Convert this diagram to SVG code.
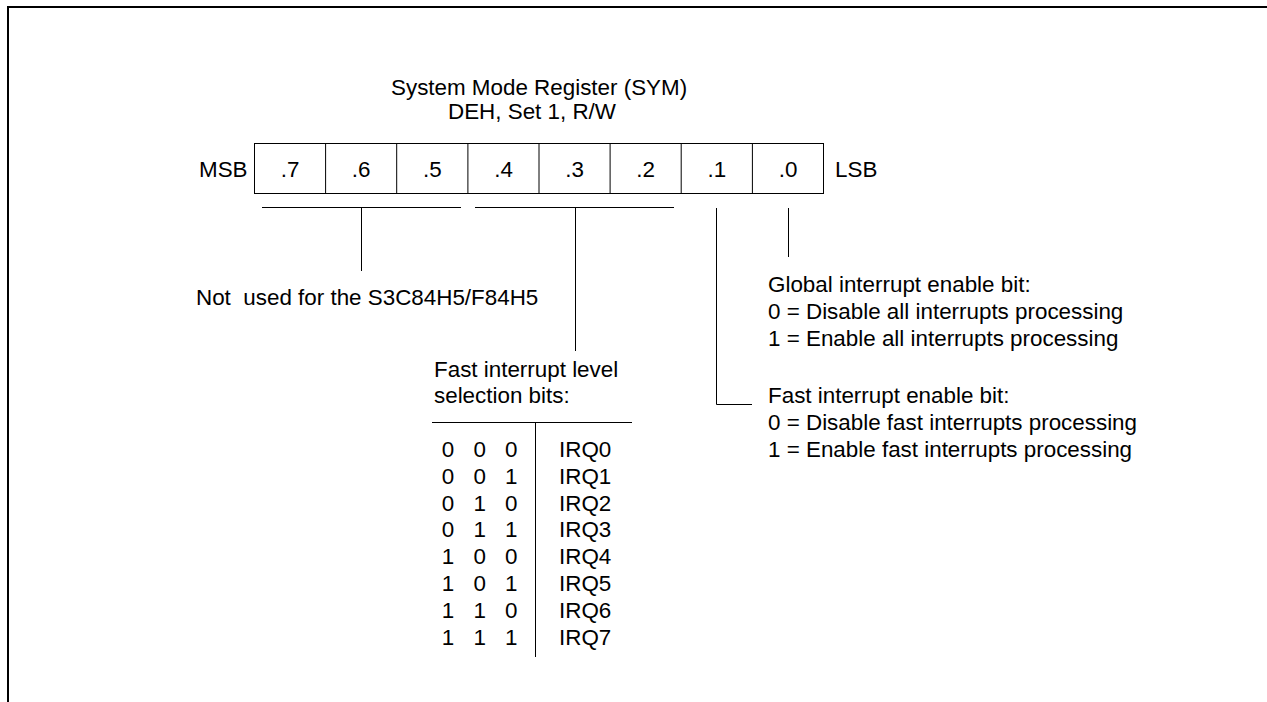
<svg xmlns="http://www.w3.org/2000/svg" width="1267" height="702" viewBox="0 0 1267 702">
<style>
text{font-family:"Liberation Sans",Arial,sans-serif;font-size:22.4px;fill:#000}
.ln{stroke:#000;stroke-width:1;fill:none}
.fr{stroke:#000;stroke-width:2;fill:none}
.c{text-anchor:middle}
.pre{white-space:pre}
</style>
<rect width="1267" height="702" fill="#fff"/>
<path class="fr" d="M8 702 V7 H1267"/>
<g id="title">
<text x="391" y="95">System Mode Register (SYM)</text>
<text x="448" y="119">DEH, Set 1, R/W</text>
</g>
<g id="register">
<rect class="ln" x="254.5" y="143.5" width="569" height="50"/>
<path class="ln" d="M325.6 143.5V193.5M396.7 143.5V193.5M467.9 143.5V193.5M539 143.5V193.5M610.1 143.5V193.5M681.2 143.5V193.5M752.4 143.5V193.5"/>
<text x="199" y="177">MSB</text>
<text x="835" y="177">LSB</text>
<text class="c" x="290" y="177">.7</text>
<text class="c" x="361.2" y="177">.6</text>
<text class="c" x="432.3" y="177">.5</text>
<text class="c" x="503.5" y="177">.4</text>
<text class="c" x="574.6" y="177">.3</text>
<text class="c" x="645.7" y="177">.2</text>
<text class="c" x="716.8" y="177">.1</text>
<text class="c" x="788" y="177">.0</text>
</g>
<g id="connectors">
<path class="ln" d="M262 207.5H461M361.5 207.5V271"/>
<path class="ln" d="M475 207.5H674M575.5 207.5V351"/>
<path class="ln" d="M716.5 208V404.5H752"/>
<path class="ln" d="M788.5 208V257"/>
</g>
<g id="not-used">
<text class="pre" xml:space="preserve" x="196" y="305">Not  used for the S3C84H5/F84H5</text>
</g>
<g id="fast-level">
<text x="434" y="377">Fast interrupt level</text>
<text x="434" y="403">selection bits:</text>
<path class="ln" d="M432 422.5H632M535.5 422.5V657"/>
<g class="c">
<text class="c" x="448" y="457">0</text><text class="c" x="479.7" y="457">0</text><text class="c" x="511.3" y="457">0</text>
<text class="c" x="448" y="483.8">0</text><text class="c" x="479.7" y="483.8">0</text><text class="c" x="511.3" y="483.8">1</text>
<text class="c" x="448" y="510.6">0</text><text class="c" x="479.7" y="510.6">1</text><text class="c" x="511.3" y="510.6">0</text>
<text class="c" x="448" y="537.4">0</text><text class="c" x="479.7" y="537.4">1</text><text class="c" x="511.3" y="537.4">1</text>
<text class="c" x="448" y="564.2">1</text><text class="c" x="479.7" y="564.2">0</text><text class="c" x="511.3" y="564.2">0</text>
<text class="c" x="448" y="591">1</text><text class="c" x="479.7" y="591">0</text><text class="c" x="511.3" y="591">1</text>
<text class="c" x="448" y="617.8">1</text><text class="c" x="479.7" y="617.8">1</text><text class="c" x="511.3" y="617.8">0</text>
<text class="c" x="448" y="644.6">1</text><text class="c" x="479.7" y="644.6">1</text><text class="c" x="511.3" y="644.6">1</text>
</g>
<text x="559" y="457">IRQ0</text>
<text x="559" y="483.8">IRQ1</text>
<text x="559" y="510.6">IRQ2</text>
<text x="559" y="537.4">IRQ3</text>
<text x="559" y="564.2">IRQ4</text>
<text x="559" y="591">IRQ5</text>
<text x="559" y="617.8">IRQ6</text>
<text x="559" y="644.6">IRQ7</text>
</g>
<g id="global-enable">
<text x="768" y="292">Global interrupt enable bit:</text>
<text x="768" y="319">0 = Disable all interrupts processing</text>
<text x="768" y="346">1 = Enable all interrupts processing</text>
</g>
<g id="fast-enable">
<text x="768" y="403">Fast interrupt enable bit:</text>
<text x="768" y="430">0 = Disable fast interrupts processing</text>
<text x="768" y="457">1 = Enable fast interrupts processing</text>
</g>
</svg>
